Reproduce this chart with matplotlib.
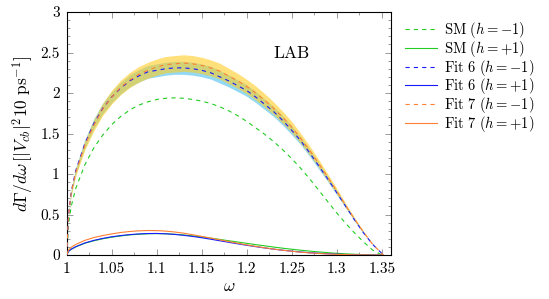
import matplotlib
matplotlib.use("Agg")
import matplotlib.pyplot as plt
from matplotlib.ticker import MultipleLocator, FormatStrFormatter

plt.rcParams['font.family'] = 'cmr10'
plt.rcParams['mathtext.fontset'] = 'cm'
plt.rcParams['axes.formatter.use_mathtext'] = True
plt.rcParams['lines.scale_dashes'] = False

omega = [1.0, 1.002, 1.005, 1.01, 1.02, 1.03, 1.04, 1.05, 1.06, 1.07, 1.08, 1.09,
         1.10, 1.11, 1.12, 1.13, 1.14, 1.15, 1.16, 1.17, 1.18, 1.19, 1.20, 1.21,
         1.22, 1.23, 1.24, 1.25, 1.26, 1.27, 1.28, 1.29, 1.30, 1.31, 1.32, 1.33,
         1.34, 1.35, 1.3515]

sm_minus = [0.0, 0.38, 0.60, 0.82, 1.11, 1.32, 1.48, 1.61, 1.71, 1.79, 1.85, 1.89,
            1.92, 1.935, 1.94, 1.935, 1.92, 1.90, 1.87, 1.83, 1.78, 1.72, 1.65, 1.57,
            1.49, 1.40, 1.30, 1.19, 1.07, 0.94, 0.80, 0.66, 0.52, 0.39, 0.27, 0.16,
            0.06, 0.0, 0.0]
sm_plus = [0.0, 0.045, 0.07, 0.10, 0.145, 0.175, 0.20, 0.22, 0.235, 0.248, 0.256, 0.262,
           0.264, 0.262, 0.256, 0.247, 0.236, 0.223, 0.208, 0.192, 0.176, 0.160, 0.144, 0.128,
           0.113, 0.098, 0.084, 0.071, 0.059, 0.048, 0.038, 0.029, 0.021, 0.014, 0.009, 0.004,
           0.001, 0.0, 0.0]
fit6_minus = [0.0, 0.50, 0.78, 1.04, 1.37, 1.62, 1.81, 1.95, 2.06, 2.15, 2.21, 2.26,
              2.28, 2.30, 2.31, 2.31, 2.30, 2.28, 2.25, 2.20, 2.15, 2.09, 2.03, 1.95,
              1.86, 1.77, 1.66, 1.54, 1.41, 1.26, 1.10, 0.94, 0.77, 0.60, 0.43, 0.27,
              0.13, 0.02, 0.0]
fit6_plus = [0.0, 0.045, 0.072, 0.102, 0.148, 0.18, 0.205, 0.225, 0.24, 0.252, 0.26, 0.265,
             0.266, 0.262, 0.254, 0.243, 0.229, 0.213, 0.195, 0.176, 0.157, 0.138, 0.120, 0.103,
             0.087, 0.072, 0.059, 0.047, 0.037, 0.028, 0.021, 0.015, 0.010, 0.006, 0.003, 0.001,
             0.0, 0.0, 0.0]
fit7_minus = [0.0, 0.49, 0.77, 1.02, 1.35, 1.60, 1.80, 1.95, 2.07, 2.16, 2.23, 2.28,
              2.32, 2.35, 2.36, 2.37, 2.36, 2.34, 2.31, 2.27, 2.21, 2.15, 2.08, 2.00,
              1.91, 1.81, 1.70, 1.58, 1.44, 1.29, 1.13, 0.96, 0.79, 0.61, 0.44, 0.28,
              0.13, 0.02, 0.0]
fit7_plus = [0.0, 0.06, 0.095, 0.13, 0.18, 0.215, 0.24, 0.26, 0.278, 0.29, 0.298, 0.302,
             0.301, 0.295, 0.284, 0.269, 0.25, 0.23, 0.209, 0.188, 0.166, 0.145, 0.125, 0.106,
             0.089, 0.073, 0.059, 0.046, 0.035, 0.026, 0.019, 0.013, 0.008, 0.005, 0.002, 0.001,
             0.0, 0.0, 0.0]
err6 = [0.0, 0.02, 0.03, 0.04, 0.05, 0.06, 0.065, 0.07, 0.072, 0.075, 0.077, 0.078,
        0.08, 0.08, 0.08, 0.08, 0.08, 0.079, 0.078, 0.077, 0.075, 0.073, 0.071, 0.068,
        0.065, 0.062, 0.058, 0.054, 0.049, 0.044, 0.039, 0.033, 0.027, 0.021, 0.015, 0.01,
        0.005, 0.001, 0.0]
err7 = [0.0, 0.02, 0.035, 0.045, 0.058, 0.069, 0.077, 0.084, 0.089, 0.093, 0.096, 0.098,
        0.10, 0.101, 0.102, 0.102, 0.102, 0.101, 0.099, 0.098, 0.095, 0.092, 0.089, 0.086,
        0.082, 0.078, 0.073, 0.068, 0.062, 0.055, 0.049, 0.041, 0.034, 0.026, 0.019, 0.012,
        0.006, 0.001, 0.0]

labels = [r'$\mathrm{SM}\ (h=-1)$', r'$\mathrm{SM}\ (h=+1)$',
          r'$\mathrm{Fit\ 6}\ (h=-1)$', r'$\mathrm{Fit\ 6}\ (h=+1)$',
          r'$\mathrm{Fit\ 7}\ (h=-1)$', r'$\mathrm{Fit\ 7}\ (h=+1)$']

c_green = '#22cc22'
c_blue = '#1a1aff'
c_orange = '#ff7f33'

fig = plt.figure(figsize=(5.49, 2.99), dpi=100)
ax = fig.add_axes([66.7/549, (299-255)/299, (391-66.7)/549, (255-12)/299])

lo6 = [c - e for c, e in zip(fit6_minus, err6)]
hi6 = [c + e for c, e in zip(fit6_minus, err6)]
lo7 = [c - e for c, e in zip(fit7_minus, err7)]
hi7 = [c + e for c, e in zip(fit7_minus, err7)]
ax.fill_between(omega, lo6, hi6, color='#93d9f5', lw=0, zorder=1)
ax.fill_between(omega, lo7, hi7, color='#ffcc22', alpha=0.6, lw=0, zorder=2)

dash = (0, (3, 3))
lw = 0.8
ax.plot(omega, sm_minus, color=c_green, ls=dash, lw=lw, label=labels[0], zorder=3)
ax.plot(omega, sm_plus, color=c_green, ls='-', lw=lw, label=labels[1], zorder=3)
ax.plot(omega, fit6_minus, color=c_blue, ls=dash, lw=lw, label=labels[2], zorder=3)
ax.plot(omega, fit6_plus, color=c_blue, ls='-', lw=lw, label=labels[3], zorder=3)
ax.plot(omega, fit7_minus, color=c_orange, ls=dash, lw=lw, label=labels[4], zorder=3)
ax.plot(omega, fit7_plus, color=c_orange, ls='-', lw=lw, label=labels[5], zorder=3)

ax.set_xlim(1.0, 1.3603)
ax.set_ylim(0, 3)
ax.xaxis.set_major_locator(MultipleLocator(0.05))
ax.xaxis.set_minor_locator(MultipleLocator(0.025))
ax.yaxis.set_major_locator(MultipleLocator(0.5))
ax.yaxis.set_minor_locator(MultipleLocator(0.1))
ax.xaxis.set_major_formatter(FormatStrFormatter('%g'))
ax.yaxis.set_major_formatter(FormatStrFormatter('%g'))
ax.tick_params(which='both', direction='in', top=True, right=True, labelsize=11,
               color='0.45', width=0.5)
ax.tick_params(which='major', length=4, pad=5)
ax.tick_params(which='minor', length=2.2)
for s in ax.spines.values():
    s.set_linewidth(0.8)

ax.set_xlabel(r'$\omega$', fontsize=12.5, labelpad=2)
ax.set_ylabel(r'$d\Gamma/d\omega\,[|V_{cb}|^2 10\ \mathrm{ps}^{-1}]$', fontsize=12.5, labelpad=3)
ax.text(1.25, 2.5, r'$\mathrm{LAB}$', fontsize=12.5, ha='center', va='center')

leg = fig.legend(loc='upper left', bbox_to_anchor=(405/549, 1 - 20/299), frameon=False,
                 fontsize=10.5, handlelength=2.2, handletextpad=0.48, labelspacing=-0.08,
                 borderpad=0, borderaxespad=0)

fig.savefig('out.png', dpi=100)
